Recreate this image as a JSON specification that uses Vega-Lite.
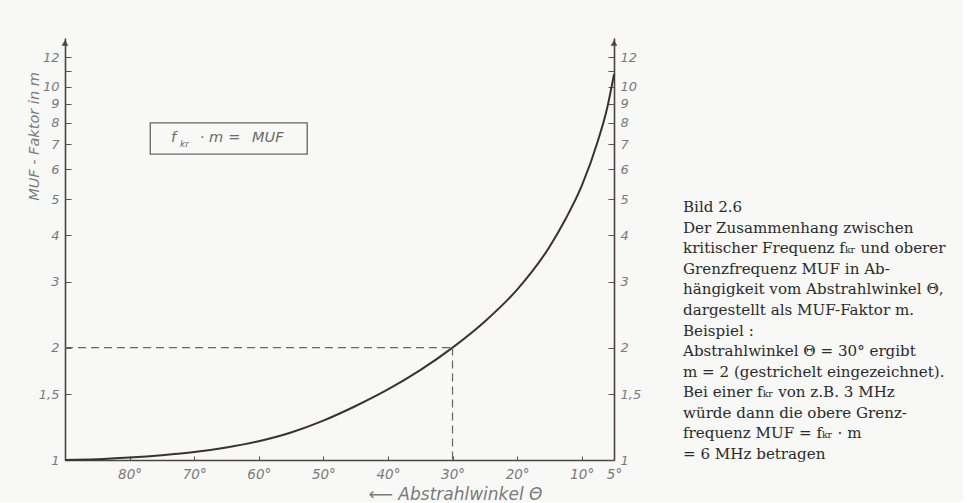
{
  "$schema": "https://vega.github.io/schema/vega-lite/v6.json",
  "background": "#f8f8f7",
  "padding": {"left": 26, "top": 38, "right": 0, "bottom": 0},
  "config": {"view": {"stroke": null}, "font": "DejaVu Sans"},
  "spacing": 69,
  "bounds": "flush",
  "datasets": {
    "curve": [
      {"angle": 90, "m": 1.0},
      {"angle": 85, "m": 1.004},
      {"angle": 80, "m": 1.015},
      {"angle": 75, "m": 1.03},
      {"angle": 70, "m": 1.05},
      {"angle": 65, "m": 1.08},
      {"angle": 60, "m": 1.123},
      {"angle": 55, "m": 1.185},
      {"angle": 50, "m": 1.275},
      {"angle": 45, "m": 1.395},
      {"angle": 40, "m": 1.545},
      {"angle": 35, "m": 1.74},
      {"angle": 30, "m": 2.0},
      {"angle": 25, "m": 2.35},
      {"angle": 20, "m": 2.86},
      {"angle": 15, "m": 3.72},
      {"angle": 12.5, "m": 4.42},
      {"angle": 10, "m": 5.42},
      {"angle": 7.5, "m": 7.15},
      {"angle": 6, "m": 8.85},
      {"angle": 5, "m": 10.8}
    ],
    "dash": [
      {"seg": "h", "angle": 90, "m": 2},
      {"seg": "h", "angle": 30, "m": 2},
      {"seg": "v", "angle": 30, "m": 2},
      {"seg": "v", "angle": 30, "m": 1}
    ],
    "box": [
      {"a1": 76.8, "a2": 52.5, "m1": 6.6, "m2": 8.0}
    ],
    "ann": [
      {"kind": "main", "t": "f", "angle": 73.2, "m": 7.3},
      {"kind": "sub", "t": "kr", "angle": 71.5, "m": 7.02},
      {"kind": "main", "t": "·", "angle": 68.8, "m": 7.3},
      {"kind": "main", "t": "m", "angle": 66.6, "m": 7.3},
      {"kind": "main", "t": "=", "angle": 63.8, "m": 7.3},
      {"kind": "main", "t": "MUF", "angle": 58.6, "m": 7.3}
    ],
    "arrows": [
      {"angle": 90, "m": 13.1},
      {"angle": 5, "m": 13.1}
    ],
    "caption": [
      {"col": 0, "line": 0, "txt": "Bild 2.6"},
      {"col": 0, "line": 1, "txt": "Der Zusammenhang zwischen"},
      {"col": 0, "line": 2, "txt": "kritischer Frequenz fₖᵣ und oberer"},
      {"col": 0, "line": 3, "txt": "Grenzfrequenz MUF in Ab-"},
      {"col": 0, "line": 4, "txt": "hängigkeit vom Abstrahlwinkel Θ,"},
      {"col": 0, "line": 5, "txt": "dargestellt als MUF-Faktor m."},
      {"col": 0, "line": 6, "txt": "Beispiel :"},
      {"col": 0, "line": 7, "txt": "Abstrahlwinkel Θ = 30° ergibt"},
      {"col": 0, "line": 8, "txt": "m = 2 (gestrichelt eingezeichnet)."},
      {"col": 0, "line": 9, "txt": "Bei einer fₖᵣ von z.B. 3 MHz"},
      {"col": 0, "line": 10, "txt": "würde dann die obere Grenz-"},
      {"col": 0, "line": 11, "txt": "frequenz MUF = fₖᵣ · m"},
      {"col": 0, "line": 12, "txt": "= 6 MHz betragen"}
    ]
  },
  "hconcat": [
    {
      "width": 549,
      "height": 422,
      "resolve": {"axis": {"y": "independent"}},
      "layer": [
        {
          "data": {"name": "curve"},
          "mark": {"type": "line", "color": "#3a3232", "strokeWidth": 2, "interpolate": "monotone"},
          "encoding": {
            "x": {
              "field": "angle", "type": "quantitative",
              "scale": {"domain": [5, 90], "reverse": true, "nice": false, "zero": false},
              "axis": {
                "values": [80, 70, 60, 50, 40, 30, 20, 10, 5],
                "labelExpr": "datum.value + '°'",
                "tickSize": -4, "tickColor": "#555", "tickWidth": 1,
                "domainColor": "#4a4444", "domainWidth": 1.6,
                "labelPadding": 11, "labelFlush": false, "labelOverlap": false,
                "labelFontStyle": "italic", "labelFontSize": 13.5, "labelColor": "#7a7a7a",
                "grid": false,
                "title": "⟵  Abstrahlwinkel Θ",
                "titleFontStyle": "italic", "titleFontWeight": "normal", "titleFontSize": 17,
                "titleColor": "#7a7a7a", "titleX": 390, "titleY": 34, "titleBaseline": "middle"
              }
            },
            "y": {
              "field": "m", "type": "quantitative",
              "scale": {"type": "log", "domain": [1, 13.5], "nice": false},
              "axis": {
                "orient": "left",
                "values": [1, 1.5, 2, 3, 4, 5, 6, 7, 8, 9, 10, 11, 12],
                "labelExpr": "datum.value == 11 ? '' : replace(toString(datum.value), '.', ',')",
                "tickSize": -6, "tickColor": "#555", "tickWidth": 1,
                "domainColor": "#4a4444", "domainWidth": 1.6,
                "labelPadding": 12, "labelFlush": false, "labelOverlap": false,
                "labelFontStyle": "italic", "labelFontSize": 13, "labelColor": "#7a7a7a",
                "grid": false,
                "title": "MUF - Faktor  in m",
                "titleFontStyle": "italic", "titleFontWeight": "normal", "titleFontSize": 14.5,
                "titleColor": "#7a7a7a", "titleX": -24, "titleY": 98
              }
            }
          }
        },
        {
          "data": {"name": "dash"},
          "mark": {"type": "line", "color": "#666", "strokeWidth": 1.2, "strokeDash": [8, 5]},
          "encoding": {
            "x": {"field": "angle", "type": "quantitative"},
            "y": {
              "field": "m", "type": "quantitative",
              "axis": {
                "orient": "right",
                "values": [1, 1.5, 2, 3, 4, 5, 6, 7, 8, 9, 10, 11, 12],
                "labelExpr": "datum.value == 11 ? '' : replace(toString(datum.value), '.', ',')",
                "tickSize": -6, "tickColor": "#555", "tickWidth": 1,
                "domainColor": "#4a4444", "domainWidth": 1.6,
                "labelPadding": 12, "labelFlush": false, "labelOverlap": false,
                "labelFontStyle": "italic", "labelFontSize": 13, "labelColor": "#7a7a7a",
                "grid": false, "title": null
              }
            },
            "detail": {"field": "seg"}
          }
        },
        {
          "data": {"name": "box"},
          "mark": {"type": "rect", "fill": null, "stroke": "#666", "strokeWidth": 1.3},
          "encoding": {
            "x": {"field": "a1", "type": "quantitative"},
            "x2": {"field": "a2"},
            "y": {"field": "m1", "type": "quantitative", "axis": null},
            "y2": {"field": "m2"}
          }
        },
        {
          "data": {"name": "ann"},
          "transform": [{"filter": "datum.kind == 'main'"}],
          "mark": {"type": "text", "align": "center", "baseline": "middle", "fontStyle": "italic", "fontSize": 14.5, "color": "#6a6a6a"},
          "encoding": {
            "x": {"field": "angle", "type": "quantitative"},
            "y": {"field": "m", "type": "quantitative", "axis": null},
            "text": {"field": "t"}
          }
        },
        {
          "data": {"name": "ann"},
          "transform": [{"filter": "datum.kind == 'sub'"}],
          "mark": {"type": "text", "align": "center", "baseline": "middle", "fontStyle": "italic", "fontSize": 9, "color": "#6a6a6a"},
          "encoding": {
            "x": {"field": "angle", "type": "quantitative"},
            "y": {"field": "m", "type": "quantitative", "axis": null},
            "text": {"field": "t"}
          }
        },
        {
          "data": {"name": "arrows"},
          "mark": {"type": "point", "shape": "triangle-up", "filled": true, "size": 45, "color": "#4a4444", "opacity": 1},
          "encoding": {
            "x": {"field": "angle", "type": "quantitative"},
            "y": {"field": "m", "type": "quantitative", "axis": null}
          }
        }
      ]
    },
    {
      "width": 280,
      "height": 422,
      "data": {"name": "caption"},
      "mark": {"type": "text", "align": "left", "baseline": "middle", "font": "DejaVu Serif", "fontSize": 15.1, "color": "#2b2b2b"},
      "encoding": {
        "x": {"field": "col", "type": "quantitative", "scale": {"domain": [0, 1]}, "axis": null},
        "y": {"field": "line", "type": "quantitative", "scale": {"domain": [-8.21, 12.29], "reverse": true, "nice": false, "zero": false}, "axis": null},
        "text": {"field": "txt"}
      }
    }
  ]
}
